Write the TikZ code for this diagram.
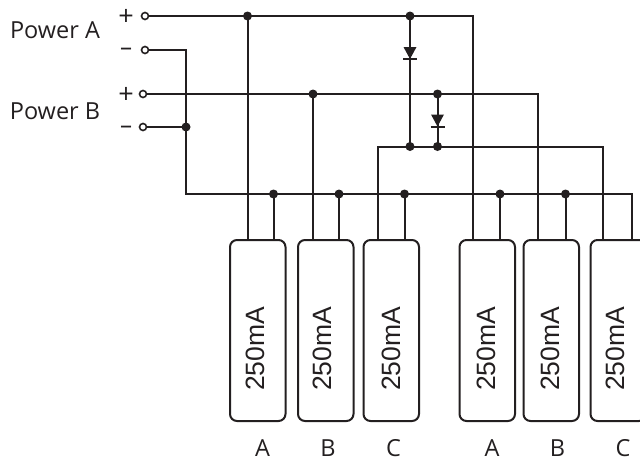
\documentclass[tikz,border=0pt]{standalone}
\usepackage{fontspec}
\setmainfont{Open Sans}
\newfontfamily\arialfont{Liberation Sans}
\definecolor{ink}{HTML}{231F20}
\tikzset{
  wire/.style={line width=2pt,draw=ink},
  term/.style={circle,draw=ink,fill=white,line width=1.6pt,inner sep=0pt,minimum size=7pt},
  dot/.style={circle,fill=ink,inner sep=0pt,minimum size=9pt},
  load/.style={draw=ink,line width=2pt,rounded corners=7pt,minimum width=55.5pt,minimum height=181pt,inner sep=0pt,outer sep=0pt,anchor=north west},
  amp/.style={rotate=90,font=\arialfont\fontsize{26.5}{26.5}\selectfont,text=ink,inner sep=0pt},
  lab/.style={font=\fontsize{23.5}{23.5}\selectfont,text=ink,inner sep=0pt},
  plus/.style={font=\fontsize{27}{27}\selectfont,text=ink,inner sep=0pt},
  minus/.style={font=\fontsize{24}{24}\selectfont,text=ink,inner sep=0pt},
  diode/.pic={\fill[ink] (-6.5,-6) -- (6.5,-6) -- (0,6) -- cycle; \draw[ink,line width=2pt] (-7,6) -- (7,6);}
}
\begin{document}
\begin{tikzpicture}[x=1pt,y=-1pt]
\useasboundingbox (0,0) rectangle (640,461);
\clip (0,0) rectangle (640,461);
% labels
\node[lab] (pa) at (55,30) {Power A};
\node[lab] (pb) at (55,111) {Power B};
\node[plus] (s1) at (126,17) {+};
\node[minus] (s2) at (126,52) {–};
\node[plus] (s3) at (126,95) {+};
\node[minus] (s4) at (126,130) {–};
% loads
\node[load] (l1) at (230,240) {};
\node[load] (l2) at (298,240) {};
\node[load] (l3) at (363.5,240) {};
\node[load] (l4) at (459.5,240) {};
\node[load] (l5) at (523.5,240) {};
\node[load] (l6) at (590.5,240) {};
\node[amp] (t1) at (255,349) {250mA};
\node[amp] (t2) at (322.5,349) {250mA};
\node[amp] (t3) at (391.5,349) {250mA};
\node[amp] (t4) at (486.5,349) {250mA};
\node[amp] (t5) at (550,349) {250mA};
\node[amp] (t6) at (615,349) {250mA};
\node[lab] (n1) at (262.5,448) {A};
\node[lab] (n2) at (328,448) {B};
\node[lab] (n3) at (393.5,448) {C};
\node[lab] (n4) at (492,448) {A};
\node[lab] (n5) at (557.5,448) {B};
\node[lab] (n6) at (623,448) {C};
% junctions
\coordinate (ja) at (247.5,16);
\coordinate (jb) at (410,16);
\coordinate (jc) at (313,94);
\coordinate (jd) at (437.5,94);
\coordinate (je) at (186,127);
\coordinate (jf) at (410,146.5);
\coordinate (jg) at (437.5,146.5);
\coordinate (j1) at (273.5,194);
\coordinate (j2) at (339,194);
\coordinate (j3) at (404.5,194);
\coordinate (j4) at (500,194);
\coordinate (j5) at (565.5,194);
\coordinate (k1) at (186,50);
\coordinate (k2) at (186,194);
\coordinate (k3) at (632,194);
\coordinate (k4) at (472.5,16);
\coordinate (k5) at (538,94);
\coordinate (k6) at (377.5,146.5);
\coordinate (k7) at (602.5,146.5);
% terminals
\coordinate (apc) at (145,16);
\coordinate (amc) at (145,50);
\coordinate (bpc) at (143,94);
\coordinate (bmc) at (143,127);
% wires
\draw[wire] (apc) -- (k4) -- (k4 |- l4.north);
\draw[wire] (ja) -- (ja |- l1.north);
\draw[wire] (bpc) -- (k5) -- (k5 |- l5.north);
\draw[wire] (jc) -- (jc |- l2.north);
\draw[wire] (amc) -- (k1) -- (k2) -- (k3) -- (k3 |- l6.north);
\draw[wire] (bmc) -- (je);
\draw[wire] (l3.north -| k6) -- (k6) -- (k7) -- (k7 |- l6.north);
\draw[wire] (jb) -- (jf);
\draw[wire] (jd) -- (jg);
\draw[wire] (j1) -- (j1 |- l1.north);
\draw[wire] (j2) -- (j2 |- l2.north);
\draw[wire] (j3) -- (j3 |- l3.north);
\draw[wire] (j4) -- (j4 |- l4.north);
\draw[wire] (j5) -- (j5 |- l5.north);
% diodes
\pic at (410,53) {diode};
\pic at (437.5,120.5) {diode};
% terminals and dots
\node[term] (ap) at (apc) {};
\node[term] (am) at (amc) {};
\node[term] (bp) at (bpc) {};
\node[term] (bm) at (bmc) {};
\foreach \j in {ja,jb,jc,jd,je,jf,jg,j1,j2,j3,j4,j5} \node[dot] at (\j) {};
\end{tikzpicture}
\end{document}
